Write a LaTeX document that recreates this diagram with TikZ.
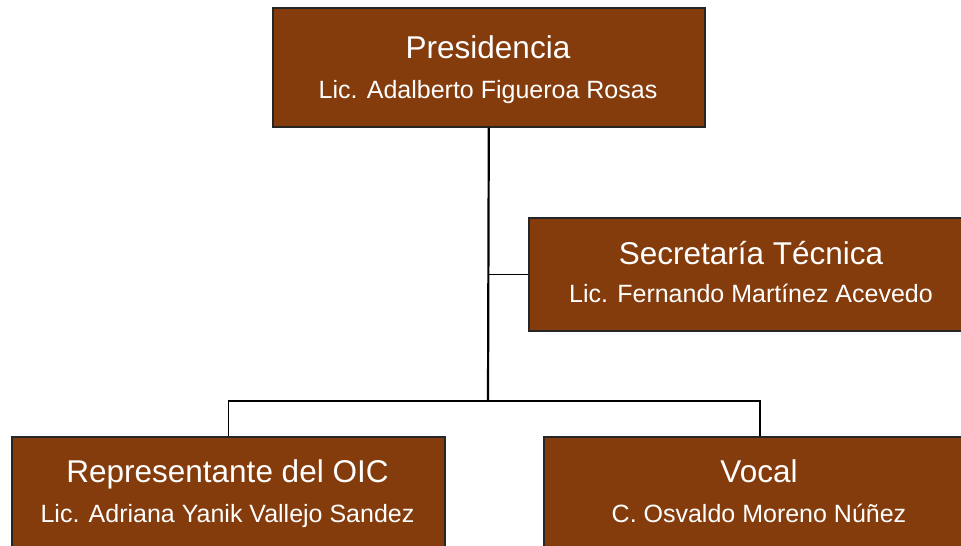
\documentclass[tikz,border=0pt]{standalone}
\usepackage{fontspec}
\setmainfont{Liberation Sans}
\definecolor{boxbrown}{RGB}{132,60,12}
\begin{document}
\begin{tikzpicture}[x=1pt,y=-1pt,
  orgbox/.style={draw=black!85, line width=1.6pt, fill=boxbrown, rectangle, inner sep=0pt, anchor=north west},
  ttl/.style={text=white, font=\fontsize{31.5}{33}\selectfont, anchor=base, inner sep=0pt},
  sub/.style={text=white, font=\fontsize{25}{27}\selectfont, anchor=base, inner sep=0pt},
  mainline/.style={draw=black, line width=2.2pt},
  thinline/.style={draw=black, line width=1.4pt}]
\useasboundingbox (0,0) rectangle (961,546);
\clip (0,0) rectangle (961,546);
% boxes
\node[orgbox, minimum width=432pt, minimum height=119pt] (pres) at (272,7) {};
\node[orgbox, minimum width=440pt, minimum height=113pt] (sec) at (528,217) {};
\node[orgbox, minimum width=433pt, minimum height=130pt] (rep) at (11,436) {};
\node[orgbox, minimum width=432pt, minimum height=130pt] (voc) at (543,436) {};
% texts
\node[ttl] (presT) at (488,58) {Presidencia};
\node[sub] (presS) at (488,98) {Lic. Adalberto Figueroa Rosas};
\node[ttl] (secT) at (751,264) {Secretaría Técnica};
\node[sub] (secS) at (751,302) {Lic. Fernando Martínez Acevedo};
\node[ttl] (repT) at (227.5,482) {Representante del OIC};
\node[sub] (repS) at (227.5,522) {Lic. Adriana Yanik Vallejo Sandez};
\node[ttl] (vocT) at (759,482) {Vocal};
\node[sub] (vocS) at (759,522) {C. Osvaldo Moreno Núñez};
% connectors
\coordinate (jn) at (488,401);
\draw[mainline] (pres.south) -- (jn);
\draw[thinline] (sec.west) -- (sec.west -| jn);
\draw[thinline] (rep.north) |- (jn) -| (voc.north);
\end{tikzpicture}
\end{document}
